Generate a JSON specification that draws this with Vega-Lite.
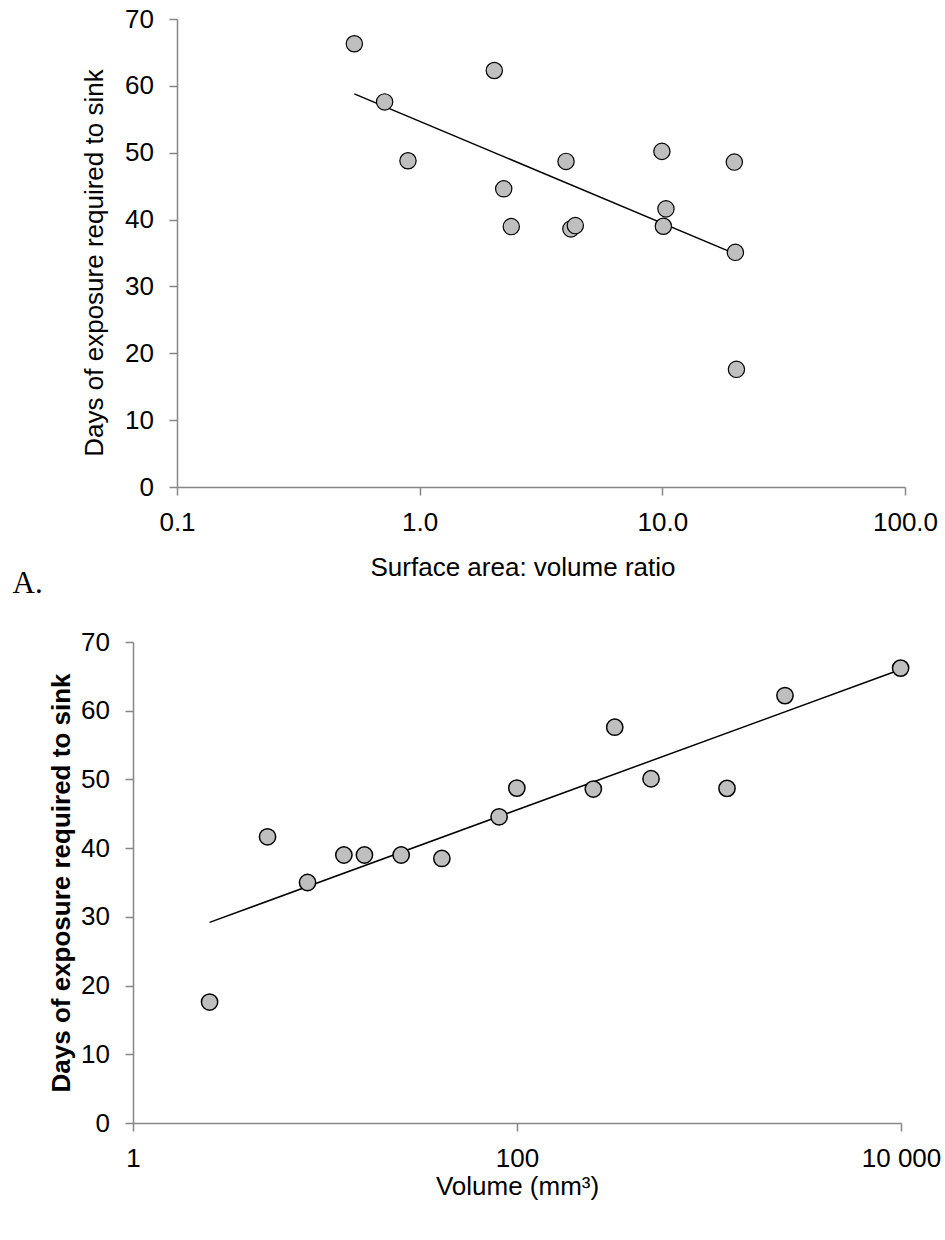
{
  "$schema": "https://vega.github.io/schema/vega-lite/v6.json",
  "background": "white",
  "padding": {"left": 12, "top": 6, "right": 8, "bottom": 10},
  "config": {
    "view": {"stroke": null},
    "axis": {
      "grid": false,
      "domainColor": "#868686",
      "domainWidth": 1.5,
      "tickColor": "#868686",
      "tickWidth": 1.5,
      "tickSize": 8,
      "labelFont": "Liberation Sans",
      "labelFontSize": 26,
      "labelColor": "#000000",
      "titleFont": "Liberation Sans",
      "titleFontSize": 26,
      "titleColor": "#000000",
      "titleFontWeight": "normal",
      "labelFlush": false,
      "labelOverlap": false
    }
  },
  "datasets": {
    "ptsA": [
      {"ratio": 0.538, "days": 66.3},
      {"ratio": 0.717, "days": 57.6},
      {"ratio": 0.895, "days": 48.8},
      {"ratio": 2.03, "days": 62.3},
      {"ratio": 2.22, "days": 44.6},
      {"ratio": 2.385, "days": 38.95},
      {"ratio": 4.01, "days": 48.7},
      {"ratio": 4.2, "days": 38.6},
      {"ratio": 4.38, "days": 39.1},
      {"ratio": 9.96, "days": 50.2},
      {"ratio": 10.1, "days": 39.0},
      {"ratio": 10.35, "days": 41.6},
      {"ratio": 19.8, "days": 48.6},
      {"ratio": 20.0, "days": 35.1},
      {"ratio": 20.2, "days": 17.6}
    ],
    "lineA": [
      {"ratio": 0.538, "days": 58.8},
      {"ratio": 20.2, "days": 34.8}
    ],
    "ptsB": [
      {"volume": 2.505, "days": 17.6},
      {"volume": 5.02, "days": 41.65},
      {"volume": 8.11, "days": 35.0},
      {"volume": 12.54, "days": 39.0},
      {"volume": 16.05, "days": 39.0},
      {"volume": 24.93, "days": 39.0},
      {"volume": 40.6, "days": 38.5},
      {"volume": 80.7, "days": 44.56},
      {"volume": 99.8, "days": 48.74},
      {"volume": 249.8, "days": 48.6},
      {"volume": 322.9, "days": 57.6},
      {"volume": 499, "days": 50.1},
      {"volume": 1241, "days": 48.7},
      {"volume": 2487, "days": 62.2},
      {"volume": 9954, "days": 66.2}
    ],
    "lineB": [
      {"volume": 2.505, "days": 29.2},
      {"volume": 9954, "days": 66.0}
    ]
  },
  "spacing": 30,
  "vconcat": [
    {
      "hconcat": [
        {
          "width": 44,
          "height": 10,
          "data": {"values": [{}]},
          "mark": {"type": "point", "opacity": 0}
        },
        {
          "width": 728,
          "height": 468,
          "title": {
            "text": "A.",
            "orient": "bottom",
            "anchor": "start",
            "frame": "bounds",
            "font": "Liberation Serif",
            "fontSize": 31,
            "fontWeight": "normal",
            "color": "#000000",
            "offset": -11,
            "dx": -69
          },
          "layer": [
            {
              "data": {"name": "lineA"},
              "mark": {"type": "line", "color": "#000000", "strokeWidth": 1.5},
              "encoding": {
                "x": {
                  "field": "ratio",
                  "type": "quantitative",
                  "scale": {"type": "log", "domain": [0.1, 100], "nice": false},
                  "axis": {
                    "values": [0.1, 1, 10, 100],
                    "format": ".1f",
                    "labelPadding": 14,
                    "title": "Surface area: volume ratio",
                    "titlePadding": 19,
                    "titleX": 345.5
                  }
                },
                "y": {
                  "field": "days",
                  "type": "quantitative",
                  "scale": {"domain": [0, 70], "nice": false},
                  "axis": {
                    "values": [0, 10, 20, 30, 40, 50, 60, 70],
                    "labelPadding": 15.5,
                    "title": "Days of exposure required to sink",
                    "titlePadding": 17,
                    "titleY": 243.5
                  }
                }
              }
            },
            {
              "data": {"name": "ptsA"},
              "mark": {"type": "circle", "size": 266, "fill": "#bfbfbf", "stroke": "#000000", "strokeWidth": 1.2, "opacity": 1},
              "encoding": {
                "x": {"field": "ratio", "type": "quantitative"},
                "y": {"field": "days", "type": "quantitative"}
              }
            }
          ]
        }
      ],
      "spacing": 0,
      "bounds": "flush"
    },
    {
      "width": 768,
      "height": 481,
      "layer": [
        {
          "data": {"name": "lineB"},
          "mark": {"type": "line", "color": "#000000", "strokeWidth": 1.5},
          "encoding": {
            "x": {
              "field": "volume",
              "type": "quantitative",
              "scale": {"type": "log", "domain": [1, 10000], "nice": false},
              "axis": {
                "values": [1, 100, 10000],
                "labelExpr": "datum.value >= 10000 ? '10 000' : format(datum.value, 'd')",
                "labelPadding": 14,
                "title": "Volume (mm³)",
                "titlePadding": 2
              }
            },
            "y": {
              "field": "days",
              "type": "quantitative",
              "scale": {"domain": [0, 70], "nice": false},
              "axis": {
                "values": [0, 10, 20, 30, 40, 50, 60, 70],
                "labelPadding": 15.5,
                "title": "Days of exposure required to sink",
                "titleFontWeight": "bold",
                "titlePadding": 6
              }
            }
          }
        },
        {
          "data": {"name": "ptsB"},
          "mark": {"type": "circle", "size": 266, "fill": "#bfbfbf", "stroke": "#000000", "strokeWidth": 1.5, "opacity": 1},
          "encoding": {
            "x": {"field": "volume", "type": "quantitative"},
            "y": {"field": "days", "type": "quantitative"}
          }
        }
      ]
    }
  ]
}
